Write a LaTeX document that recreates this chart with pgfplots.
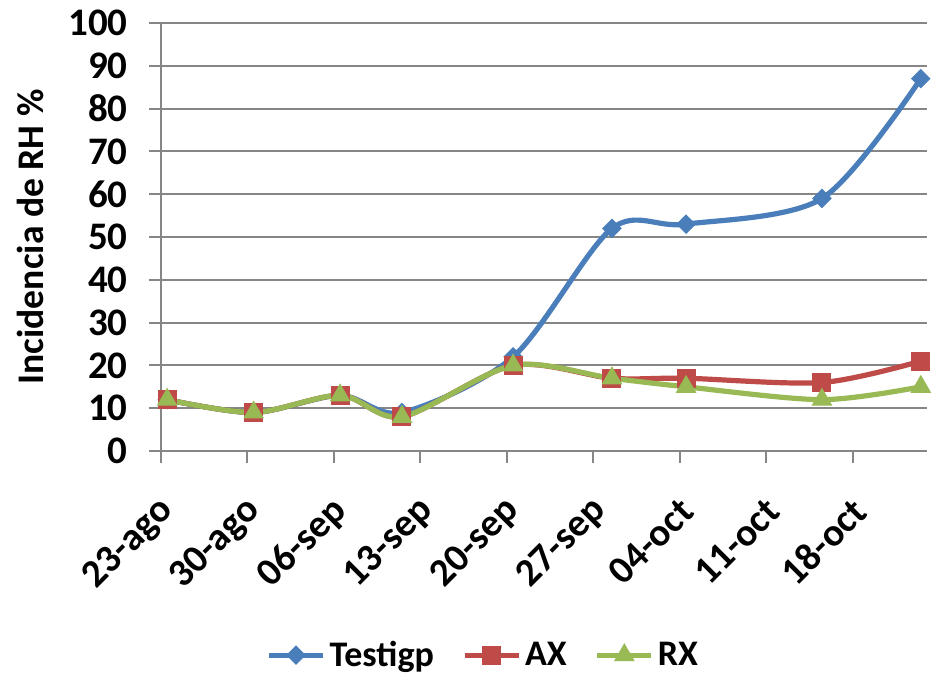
\documentclass[border=0pt]{standalone}
\usepackage{fontspec}
\setmainfont{Carlito}
\usepackage{pgfplots}
\pgfplotsset{compat=1.18}
\definecolor{cblue}{HTML}{4A7EBB}
\definecolor{cred}{HTML}{BE4B48}
\definecolor{cgreen}{HTML}{98B954}
\definecolor{cgrid}{HTML}{868686}
\newcommand{\lbl}{\fontsize{18}{21}\selectfont\bfseries}
\newcommand{\tlbl}{\fontsize{19.5}{22}\selectfont\bfseries}
\newcommand{\ylbl}{\fontsize{18.8}{22}\selectfont\bfseries}
\begin{document}
\begin{tikzpicture}
\begin{axis}[
  scale only axis, width=383pt, height=214pt,
  xmin=0, xmax=62, ymin=0, ymax=100,
  axis lines*=left,
  clip=false,
  ytick={0,10,...,100},
  xtick={0,7,...,56},
  xticklabels={23-ago,30-ago,06-sep,13-sep,20-sep,27-sep,04-oct,11-oct,18-oct},
  ymajorgrids,
  major grid style={cgrid, line width=1pt},
  axis line style={cgrid, line width=1pt},
  tick style={cgrid, line width=1pt},
  major tick length=6pt, tick align=outside,
  ticklabel style={font=\tlbl},
  /pgf/number format/assume math mode=true,
  yticklabel style={anchor=east, inner sep=0pt, xshift=-10.5pt},
  xticklabel style={xshift=3.5pt, yshift=-21pt, rotate=45, anchor=east, inner sep=0pt},
  ylabel={Incidencia de RH \%},
  every axis y label/.style={at={(axis description cs:-0.171,0.5)}, anchor=center, rotate=90, font=\ylbl},
  legend columns=3,
  legend style={at={(0.422,-0.477)}, anchor=center, draw=none, fill=none, font=\lbl,
    /tikz/every even column/.append style={column sep=12pt}},
  legend image code/.code={\draw[mark repeat=2,mark phase=2,#1] plot coordinates {(0pt,0pt) (13.5pt,0pt) (27pt,0pt)};},
]
\addplot[cblue, line width=2.6pt, smooth, mark=square*, mark size=3.2pt, mark options={rotate=45, solid, line width=0.5pt}]
  coordinates {(0.5,12) (7.5,9) (14.5,13) (19.5,9) (28.5,22) (36.5,52) (42.5,53) (53.5,59) (61.5,87)};
\addlegendentry{Testigp}
\addplot[cred, line width=2.6pt, smooth, mark=square*, mark size=4.5pt, mark options={solid, line width=0.5pt}]
  coordinates {(0.5,12) (7.5,9) (14.5,13) (19.5,8) (28.5,20) (36.5,17) (42.5,17) (53.5,16) (61.5,21)};
\addlegendentry{AX}
\addplot[cgreen, line width=2.6pt, smooth, mark=triangle*, mark size=5.5pt, mark options={solid, line width=0.5pt}]
  coordinates {(0.5,12) (7.5,9) (14.5,13) (19.5,8) (28.5,20) (36.5,17) (42.5,15) (53.5,12) (61.5,15)};
\addlegendentry{RX}
\end{axis}
\pgfresetboundingbox
\path (-80.5pt,-113pt) rectangle (390.5pt,225.5pt);
\end{tikzpicture}
\end{document}
